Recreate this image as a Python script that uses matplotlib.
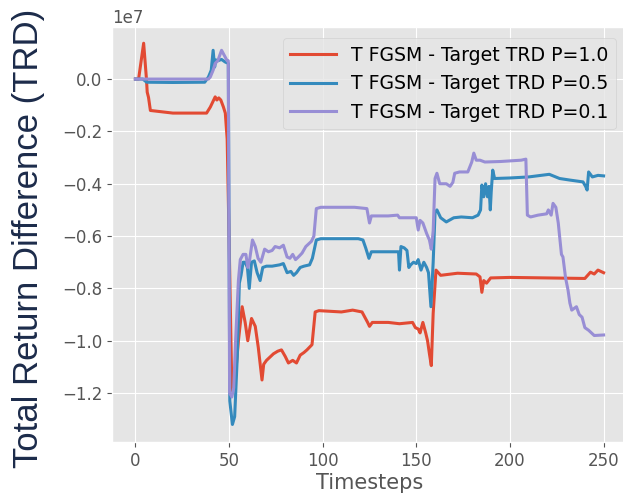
import matplotlib
matplotlib.use("Agg")
import matplotlib.pyplot as plt

plt.style.use("ggplot")

# Total return difference per timestep, in units of 1e7
red_t = [0, 1.7, 4.4, 5.9, 6.3, 7, 8, 20, 38,
         40, 42.6, 43.5, 44.5, 45.6, 47, 48, 49, 50,
         51.5, 53, 55, 57, 58.6, 60, 62, 64, 65.6,
         67.6, 68.5, 70, 73.7, 76, 78, 80, 81.7, 84,
         86, 88, 90, 91.6, 94.3, 96, 98, 110, 116,
         121, 124, 125, 126.5, 135, 141, 148, 149.5, 151,
         152, 153.5, 155, 156, 157, 158, 159, 160.5, 163,
         172, 182, 184, 185, 186, 187.5, 189.7, 200, 220,
         240, 241.5, 243, 245, 247, 250]
red_v = [0, 0, 0.137, 0, -0.05, -0.07, -0.12, -0.13, -0.13,
         -0.107, -0.068, -0.08, -0.072, -0.08, -0.107, -0.13, -0.23, -0.6,
         -1.19, -1.17, -1.0, -0.87, -0.93, -1.0, -0.915, -0.945, -1.025,
         -1.15, -1.09, -1.075, -1.05, -1.04, -1.035, -1.06, -1.085, -1.075,
         -1.085, -1.055, -1.045, -1.035, -1.015, -0.89, -0.885, -0.89, -0.883,
         -0.89, -0.93, -0.945, -0.93, -0.93, -0.935, -0.93, -0.95, -0.955,
         -0.97, -0.93, -0.97, -1.0, -1.05, -1.095, -0.895, -0.73, -0.75,
         -0.742, -0.745, -0.756, -0.815, -0.77, -0.78, -0.76, -0.758, -0.76,
         -0.762, -0.75, -0.738, -0.745, -0.73, -0.74]

blue_t = [0, 4, 6, 20, 37, 39, 40.5, 41.5, 42.3,
          43, 44, 46, 48, 49.6, 50.4, 51.8, 53, 54.4,
          55.5, 56.4, 57.5, 58.6, 59.8, 60.8, 62, 63.5, 65,
          66.6, 68, 70, 73, 77, 79, 81, 83, 84.5,
          86, 88, 90, 93, 94.5, 96.6, 99, 110, 119,
          121.5, 123, 124.7, 126, 135, 140.5, 141, 141.8, 143.5,
          145, 146, 147, 148.5, 150, 151, 152.5, 154, 155.5,
          156.5, 157.8, 159, 160, 161, 163, 166, 170, 174,
          180, 183, 184.3, 185, 186, 187, 188, 188.8, 189.5,
          190, 190.8, 191.8, 200, 210, 221, 226.5, 232, 239,
          240.4, 241.2, 242, 244, 247, 250]
blue_v = [0, 0, -0.012, -0.013, -0.012, 0.008, 0.034, 0.11, 0.046,
          0.073, 0.07, 0.075, 0.065, 0.06, -1.23, -1.32, -1.29, -1.06,
          -0.78, -0.75, -0.70, -0.70, -0.72, -0.80, -0.70, -0.695, -0.74,
          -0.77, -0.72, -0.715, -0.715, -0.71, -0.705, -0.74, -0.735, -0.75,
          -0.74, -0.72, -0.715, -0.71, -0.685, -0.615, -0.61, -0.61, -0.61,
          -0.615, -0.646, -0.685, -0.66, -0.66, -0.66, -0.73, -0.64, -0.645,
          -0.655, -0.72, -0.71, -0.70, -0.705, -0.69, -0.73, -0.70, -0.72,
          -0.74, -0.87, -0.70, -0.51, -0.50, -0.53, -0.546, -0.53, -0.527,
          -0.53, -0.52, -0.50, -0.405, -0.45, -0.40, -0.45, -0.41, -0.50,
          -0.43, -0.348, -0.38, -0.378, -0.374, -0.364, -0.38, -0.386, -0.393,
          -0.41, -0.424, -0.355, -0.374, -0.368, -0.37]

purple_t = [0, 39, 40, 41.5, 42.6, 44, 46, 47.5, 49,
            49.6, 50.3, 51.5, 52.5, 53.5, 55, 56, 57.5, 59,
            60, 61, 62.5, 64, 65.5, 67, 69, 71, 73,
            74.6, 77, 79, 81, 82.5, 84, 85.5, 87, 89,
            91, 94, 95.3, 96.6, 99, 110, 117, 123.6, 125,
            126, 135, 140, 141, 150, 151, 152, 153.5, 155.5,
            157, 158, 159, 160, 161, 162.5, 166, 168, 169.5,
            170.5, 173, 177.5, 179.6, 180.7, 182, 184, 186.6, 195,
            206, 208.5, 209.3, 211, 215, 219.6, 220.5, 222, 223,
            224.5, 225.8, 226.5, 227.5, 228.3, 229.7, 231, 232, 233,
            235.5, 237, 238.5, 240, 242, 245, 250]
purple_v = [0, 0, 0.008, 0.034, 0.06, 0.07, 0.11, 0.09, 0.07,
            0.07, -1.2, -1.215, -1.18, -1.0, -0.77, -0.69, -0.67, -0.67,
            -0.72, -0.69, -0.615, -0.64, -0.685, -0.70, -0.65, -0.66, -0.655,
            -0.64, -0.645, -0.635, -0.68, -0.685, -0.67, -0.69, -0.68, -0.665,
            -0.64, -0.62, -0.60, -0.495, -0.49, -0.49, -0.49, -0.495, -0.55,
            -0.523, -0.523, -0.52, -0.53, -0.53, -0.577, -0.54, -0.55, -0.59,
            -0.615, -0.65, -0.58, -0.38, -0.36, -0.40, -0.40, -0.41, -0.395,
            -0.36, -0.355, -0.355, -0.317, -0.283, -0.31, -0.31, -0.317, -0.315,
            -0.31, -0.306, -0.52, -0.527, -0.52, -0.515, -0.50, -0.52, -0.475,
            -0.49, -0.55, -0.60, -0.67, -0.68, -0.76, -0.806, -0.856, -0.883,
            -0.87, -0.90, -0.91, -0.95, -0.96, -0.98, -0.978]

series = [
    ("T FGSM - Target TRD P=1.0", red_t, red_v),
    ("T FGSM - Target TRD P=0.5", blue_t, blue_v),
    ("T FGSM - Target TRD P=0.1", purple_t, purple_v),
]
SCALE = 1e7

fig = plt.figure(figsize=(6.23, 4.94), dpi=100)
ax = fig.add_axes([112 / 623, 52 / 494, 515 / 623, 415 / 494])

for label, t, v in series:
    assert len(t) == len(v)
    ax.plot(t, [x * SCALE for x in v], lw=2.2, label=label)

ax.set_xlim(-12.5, 262.5)
ax.set_ylim(-1.387e7, 0.199e7)
ax.set_xticks([0, 50, 100, 150, 200, 250])
ax.tick_params(labelsize=12)
ax.yaxis.get_offset_text().set_fontsize(12)
ax.set_xlabel("Timesteps", fontsize=15, labelpad=2)

ax.legend(loc="upper right", fontsize=13.6, handlelength=2.4,
          borderaxespad=0.6)

fig.text(0.046, 0.518, "Total Return Difference (TRD)", rotation=90,
         ha="center", va="center", fontsize=25,
         family="Liberation Sans", color="#1c2b4a")

fig.savefig("out.png", dpi=100)
